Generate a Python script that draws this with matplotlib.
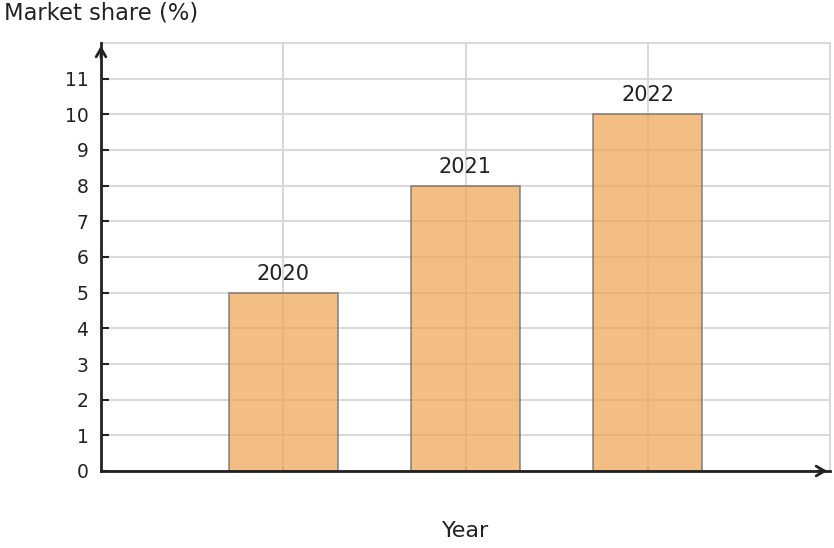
import matplotlib.pyplot as plt

# Data.
years = ['2020', '2021', '2022']
marketShare = [5, 8, 10]
positions = [1, 2, 3]

fig = plt.figure(figsize=(8.34, 5.48), dpi=100)
ax = fig.add_axes([101/834, 77/548, 729/834, 428/548])

ax.set_axisbelow(True)
ax.grid(True, color='#d6d6d6', linewidth=1.3, zorder=0)
ax.bar(positions, marketShare, width=0.6, color='#eea85b', alpha=0.75,
    edgecolor='#6a6a6a', linewidth=1.2, zorder=2)

for x, v, lab in zip(positions, marketShare, years):
    ax.text(x, v + 0.25, lab, ha='center', va='bottom', fontsize=15,
        color='#222222')

ax.set_xlim(0, 4)
ax.set_ylim(0, 12)
ax.set_yticks(range(0, 12))
ax.set_xticks(positions)
ax.set_xticklabels([])
ax.tick_params(axis='y', direction='in', length=6, width=1.5,
    color='#222222', labelsize=13.5, labelcolor='#222222', pad=9)
ax.tick_params(axis='x', direction='in', length=3, width=1.5,
    color='#c8915a')

for side in ['top', 'right']:
    ax.spines[side].set_color('#d6d6d6')
    ax.spines[side].set_linewidth(1.3)
for side in ['left', 'bottom']:
    ax.spines[side].set_color('#222222')
    ax.spines[side].set_linewidth(2)
    ax.spines[side].set_zorder(5)

# Arrow heads on the axes.
ax.annotate('', xy=(1.0, 0), xytext=(0.98, 0), xycoords='axes fraction',
    arrowprops=dict(arrowstyle='->,head_length=0.6,head_width=0.35',
        color='#222222', lw=2))
ax.annotate('', xy=(0, 1.0), xytext=(0, 0.96), xycoords='axes fraction',
    arrowprops=dict(arrowstyle='->,head_length=0.6,head_width=0.35',
        color='#222222', lw=2))

fig.text(4/834, 1 - 13/548, 'Market share (%)', ha='left', va='center',
    fontsize=16.3, color='#222222')
fig.text(466/834, 1 - 531/548, 'Year', ha='center', va='center',
    fontsize=16, color='#222222')

fig.savefig('out.png', dpi=100)
